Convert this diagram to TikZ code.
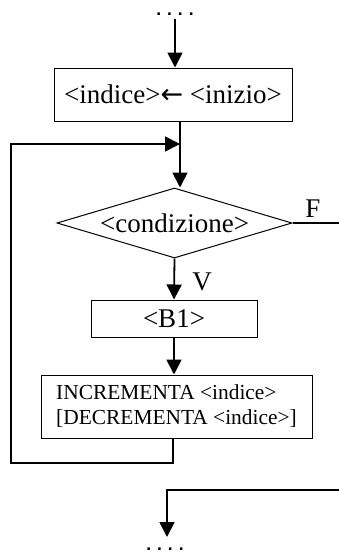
\documentclass[tikz,border=0pt]{standalone}
\usepackage{fontspec}
\setmainfont{Liberation Serif}
\newfontfamily\arrowfont{DejaVu Sans}
\usetikzlibrary{shapes.geometric,arrows.meta}
\begin{document}
\begin{tikzpicture}[x=1pt,y=-1pt,
  conn/.style={line width=1.8pt},
  arr/.style={conn,-{Triangle[length=15pt,width=15pt]}},
  boxnode/.style={draw,line width=1pt,inner sep=0pt},
  big/.style={font=\fontsize{27}{30}\selectfont},
  small/.style={font=\fontsize{21.4}{25}\selectfont},
  dots/.style={font=\arrowfont\fontsize{14}{16}\selectfont\bfseries,inner sep=0pt,anchor=base}]
\useasboundingbox (0,0) rectangle (339,554);
% nodes
\node[dots] (dtop) at (175,15) {.\hspace{5.5pt}.\hspace{5.5pt}.\hspace{5.5pt}.};
\node[boxnode,big,minimum width=238pt,minimum height=53pt] (init) at (173,94.5) {<indice>{\arrowfont\fontsize{27}{30}\selectfont ←} <inizio>};
\node[draw,line width=1pt,shape=diamond,shape aspect=3.36,inner sep=0pt,minimum width=235pt,minimum height=70pt,big] (cond) at (174.5,223) {<condizione>};
\node[boxnode,big,minimum width=166pt,minimum height=37pt] (b1) at (174,318.5) {<B1>};
\node[boxnode,small,align=left,minimum width=271pt,minimum height=63pt] (inc) at (176.5,406.5) {INCREMENTA <indice>\\{[}DECREMENTA <indice>{]}};
\node[big,inner sep=0pt] (flab) at (313,209) {F};
\node[big,inner sep=0pt] (vlab) at (202,282) {V};
\node[dots] (dbot) at (165,550) {.\hspace{5.5pt}.\hspace{5.5pt}.\hspace{5.5pt}.};
% coordinates
\coordinate (xt) at (175,19);
\coordinate (xa) at (180,0);
\coordinate (l1) at (173,463);
\coordinate (l2) at (11,463);
\coordinate (l3) at (11,144);
\coordinate (l4) at (180,144);
\coordinate (fend) at (339,223);
\coordinate (r1) at (339,490);
\coordinate (r2) at (167,490);
\coordinate (r3) at (167,537);
% connectors
\draw[arr] (xt) -- (xt |- init.north);
\draw[arr] (init.south -| xa) -- (xa |- cond.north);
\draw[arr] (cond.south) -- (b1.north);
\draw[arr] (b1.south) -- (b1.south |- inc.north);
\draw[arr] (inc.south -| l1) -- (l1) -- (l2) -- (l3) -- (l4);
\draw[conn] (cond.east) -- (fend);
\draw[arr] (r1) -- (r2) -- (r3);
\end{tikzpicture}
\end{document}
